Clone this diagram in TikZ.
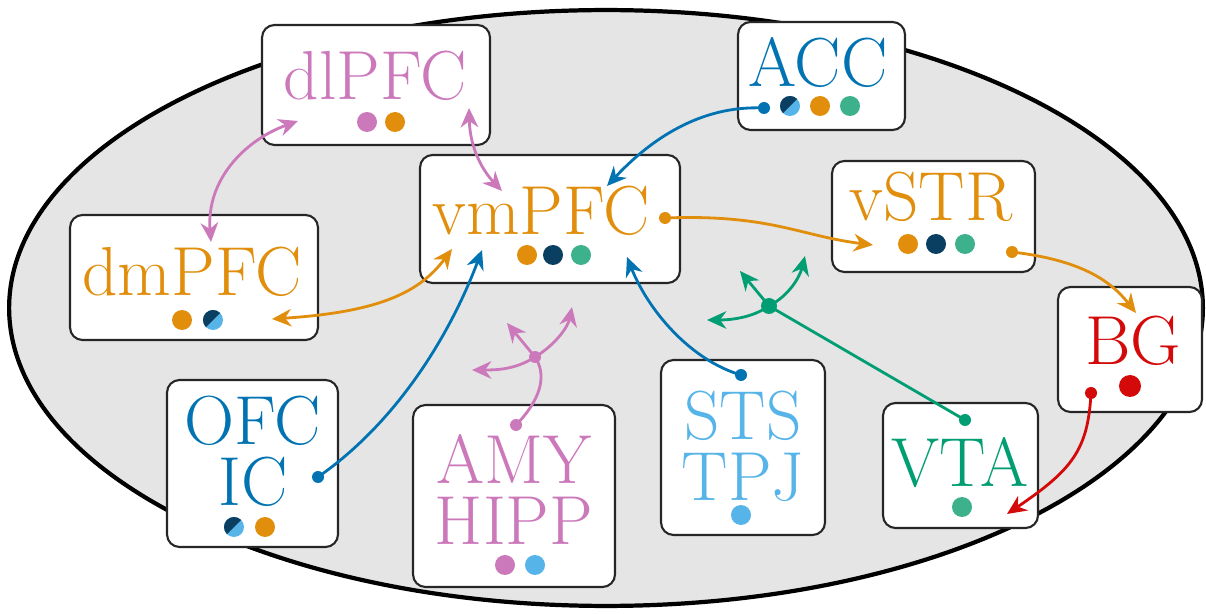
\documentclass[tikz,border=0pt]{standalone}
\usepackage{tikz}
\usetikzlibrary{arrows.meta}
\definecolor{oiorange}{HTML}{E08E0B}
\definecolor{oiblue}{HTML}{0173B2}
\definecolor{oisky}{HTML}{56B4E9}
\definecolor{oipink}{HTML}{CC79BC}
\definecolor{oigreen}{HTML}{029E73}
\definecolor{oiteal}{HTML}{3DB08C}
\definecolor{oinavy}{HTML}{0B3F62}
\definecolor{oired}{HTML}{D40A0A}
\tikzset{region/.style={draw=black!85, line width=1.2pt, fill=white, rounded corners=0.25cm, inner sep=0pt},
         lbl/.style={anchor=base, inner sep=0pt, align=center, font=\fontsize{39.5}{34.5}\selectfont},
         conn/.style={line width=1.6pt, -{Stealth[length=11pt,width=10pt]}},
         biconn/.style={line width=1.6pt, {Stealth[length=11pt,width=10pt]}-{Stealth[length=11pt,width=10pt]}}}
\newcommand{\bigdot}[2]{\fill[#1] (#2) circle (0.2cm);}
\newcommand{\pindot}[2]{\fill[#1] (#2) circle (0.12cm);}
\newcommand{\splitdot}[1]{\fill[oisky] (#1) circle (0.2cm);
  \fill[oinavy] (#1) ++(45:0.2cm) arc[start angle=45,end angle=225,radius=0.2cm] -- cycle;}

\begin{document}
\begin{tikzpicture}[x=0.02cm,y=-0.02cm]
    \useasboundingbox (0,0) rectangle (1206,614);
    \draw[line width=2.4pt, fill=black!10] (606,308) ellipse [x radius=11.94cm, y radius=5.96cm];

    % regions
    \node[region, minimum width=4.56cm, minimum height=2.40cm] (dlPFC) at (376,85) {};
    \node[region, minimum width=3.34cm, minimum height=2.16cm] (ACC) at (821.5,76) {};
    \node[region, minimum width=5.20cm, minimum height=2.56cm] (vmPFC) at (550,219) {};
    \node[region, minimum width=4.06cm, minimum height=2.22cm] (vSTR) at (933.5,216.5) {};
    \node[region, minimum width=4.96cm, minimum height=2.50cm] (dmPFC) at (194,277.5) {};
    \node[region, minimum width=2.88cm, minimum height=2.50cm] (BG) at (1130,349.5) {};
    \node[region, minimum width=3.42cm, minimum height=3.34cm] (OFC) at (252.5,463.5) {};
    \node[region, minimum width=4.04cm, minimum height=3.64cm] (AMY) at (514,496) {};
    \node[region, minimum width=3.28cm, minimum height=3.50cm] (STS) at (743,447.5) {};
    \node[region, minimum width=3.10cm, minimum height=2.50cm] (VTA) at (960.5,465.5) {};

    % labels
    \node[lbl, text=oipink] (dlPFCt) at (375,100) {dlPFC};
    \node[lbl, text=oiblue] (ACCt) at (818,87) {ACC};
    \node[lbl, text=oiorange] (vmPFCt) at (541,235) {vmPFC};
    \node[lbl, text=oiorange] (vSTRt) at (931,221) {vSTR};
    \node[lbl, text=oiorange] (dmPFCt) at (192,296) {dmPFC};
    \node[lbl, text=oired] (BGt) at (1133,365) {BG};
    \node[lbl, text=oiblue] (OFCt) at (253,505) {OFC\\IC};
    \node[lbl, text=oipink] (AMYt) at (514,544) {AMY\\HIPP};
    \node[lbl, text=oisky] (STSt) at (743,500) {STS\\TPJ};
    \node[lbl, text=oigreen] (VTAt) at (960,486) {VTA};

    % markers
    \bigdot{oipink}{367,122} \bigdot{oiorange}{395,122}
    \splitdot{790,106} \bigdot{oiorange}{820,106} \bigdot{oiteal}{850,106}
    \bigdot{oiorange}{527,255} \bigdot{oinavy}{553,255} \bigdot{oiteal}{581,255}
    \bigdot{oiorange}{908,244} \bigdot{oinavy}{936,244} \bigdot{oiteal}{965,244}
    \bigdot{oiorange}{182,320} \splitdot{213,320}
    \fill[oired] (1130,386) circle (0.22cm);
    \splitdot{234,527} \bigdot{oiorange}{265,527}
    \bigdot{oipink}{505,565} \bigdot{oisky}{535,565}
    \bigdot{oisky}{741,515}
    \bigdot{oiteal}{962,507}

    % connector ends
    \coordinate (accout) at (764,108);
    \coordinate (vmout) at (665,218);
    \coordinate (vstrout) at (1012,252);
    \coordinate (bgout) at (1091,393);
    \coordinate (ofcout) at (318,477);
    \coordinate (amyout) at (516,425);
    \coordinate (stsout) at (741,375);
    \coordinate (vtaout) at (965,420);
    \coordinate (pinkhub) at (535,357);
    \coordinate (greenhub) at (769,306);

    \coordinate (dlin1) at (298,121);
    \coordinate (dlin2) at (469,108);
    \coordinate (dmin1) at (211,242);
    \coordinate (dmin2) at (272,319);
    \coordinate (vmin1) at (502,191);
    \coordinate (vmin2) at (607,186);
    \coordinate (vmin3) at (452,249);
    \coordinate (vmin4) at (482,250);
    \coordinate (vmin5) at (627,257);
    \coordinate (vstrin) at (873,245);
    \coordinate (bgin) at (1136,313);
    \coordinate (vtain) at (1007,514);
    \coordinate (pinkA) at (472,370);
    \coordinate (pinkB) at (507,323);
    \coordinate (pinkC) at (572,307);
    \coordinate (greenA) at (707,320);
    \coordinate (greenB) at (740,271);
    \coordinate (greenC) at (805,256);

    % connectors
    \draw[biconn, oipink] (dmin1) .. controls (206,180) and (245,140) .. (dlin1);
    \draw[biconn, oipink] (dlin2) .. controls (470,150) and (484,172) .. (vmin1);
    \draw[conn, oiblue] (accout) .. controls (700,105) and (650,140) .. (vmin2);
    \draw[biconn, oiorange] (dmin2) .. controls (380,312) and (420,292) .. (vmin3);
    \draw[conn, oiblue] (ofcout) .. controls (400,420) and (452,330) .. (vmin4);
    \draw[conn, oiblue] (stsout) .. controls (690,360) and (648,310) .. (vmin5);
    \draw[conn, oiorange] (vmout) .. controls (770,214) and (800,236) .. (vstrin);
    \draw[conn, oiorange] (vstrout) .. controls (1080,260) and (1110,280) .. (bgin);
    \draw[conn, oired] (bgout) .. controls (1088,450) and (1072,470) .. (vtain);

    \draw[line width=1.6pt, oipink] (amyout) .. controls (545,395) and (545,372) .. (pinkhub);
    \draw[conn, oipink] (pinkhub) .. controls (515,370) and (495,370) .. (pinkA);
    \draw[conn, oipink] (pinkhub) -- (pinkB);
    \draw[conn, oipink] (pinkhub) .. controls (555,345) and (568,327) .. (pinkC);
    \draw[line width=1.6pt, oigreen] (vtaout) -- (greenhub);
    \draw[conn, oigreen] (greenhub) .. controls (752,318) and (730,320) .. (greenA);
    \draw[conn, oigreen] (greenhub) -- (greenB);
    \draw[conn, oigreen] (greenhub) .. controls (790,295) and (800,276) .. (greenC);

    \pindot{oiblue}{accout} \pindot{oiorange}{vmout} \pindot{oiorange}{vstrout}
    \pindot{oired}{bgout} \pindot{oiblue}{ofcout} \pindot{oipink}{amyout}
    \pindot{oiblue}{stsout} \pindot{oigreen}{vtaout}
    \pindot{oipink}{pinkhub} \fill[oigreen] (greenhub) circle (0.16cm);
\end{tikzpicture}
\end{document}
